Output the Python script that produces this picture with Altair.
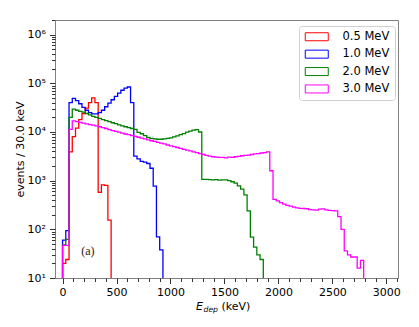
import altair as alt
import pandas as pd

BIN_WIDTH = 30
FLOOR = 1.0  # counts below the axis floor (drawn to the bottom edge, clipped)

series_labels = ["0.5 MeV", "1.0 MeV", "2.0 MeV", "3.0 MeV"]
series_colors = ["#ff0000", "#0000ff", "#008000", "#ff00ff"]

# counts per 30 keV bin, starting at 0 keV
red = [20, 24, 3900, 8000, 12000, 18000, 24000, 31000, 40000, 50000, 40000,
       575, 820, 800, 155]

blue = [60, 94, 40000, 49000, 44000, 38000, 32000, 28000, 25000, 23500, 23500,
        25000, 28000, 33000, 39000, 46000, 54000, 63000, 72000, 80000, 84000,
        40000, 3200, 2800, 2500, 2400, 2250, 1800, 770, 70, 38]

green = [48, 62, 20000, 29500, 28000, 26500, 25500, 24000, 22500, 21000, 20000,
         19000, 18000, 17200, 16300, 15500, 14800, 14000, 13300, 12800, 12300,
         11800, 11300, 9800, 9200, 8400, 7700, 7400, 7200, 7100, 7100, 7200,
         7400, 7600, 7900, 8300, 8800, 9300, 9900, 10400, 10900, 11200, 10000,
         1060, 1060, 1050, 1040, 1050, 1030, 1040, 1040, 1000, 950, 890, 785,
         670, 510, 240, 69, 43, 30, 24]

magenta = [47, 47, 11300, 17000, 16300, 15700, 15200, 14700, 14200, 13800,
           13300, 12800, 12300, 11800, 11200, 10700, 10300, 9900, 9500, 9100,
           8800, 8400, 8100, 7800, 7500, 7200, 6900, 6600, 6400, 6100, 5900,
           5700, 5400, 5200, 5000, 4800, 4600, 4400, 4250, 4100, 3900, 3750,
           3600, 3450, 3300, 3200, 3100, 3050, 3000, 3000, 2950, 3050, 3000,
           3100, 3150, 3250, 3300, 3350, 3450, 3550, 3600, 3700, 3750, 3900,
           1600, 412, 385, 355, 330, 310, 300, 285, 275, 270, 268, 265, 255,
           250, 248, 260, 262, 250, 245, 242, 240, 182, 100, 36, 30, 27, 27,
           16, 23]

x_major = list(range(0, 3001, 500))
x_minor = [v for v in range(0, 3101, 100) if v % 500 != 0]
y_ticks = [k * 10 ** n for n in range(1, 7) for k in range(1, 10) if k * 10 ** n <= 2000000]

rows = []
for label, counts in zip(series_labels, [red, blue, green, magenta]):
    pts = [(0, FLOOR)]
    pts += [(i * BIN_WIDTH, c) for i, c in enumerate(counts)]
    pts += [(len(counts) * BIN_WIDTH, FLOOR)]
    for j, (e, c) in enumerate(pts):
        rows.append({"series": label, "E": e, "N": c, "idx": j})
df = pd.DataFrame(rows)

sup = {10: "10¹", 100: "10²", 1000: "10³", 10000: "10⁴", 100000: "10⁵", 1000000: "10⁶"}
y_label_expr = " : ".join(f"datum.value === {k} ? '{v}'" for k, v in sup.items()) + " : ''"

x_scale = alt.Scale(domain=[-70, 3108], nice=False, zero=False)
y_scale = alt.Scale(type="log", domain=[10, 2000000], nice=False)

y_axis = alt.Axis(values=y_ticks, title="events / 30.0 keV", grid=False, domain=False,
                  labelExpr=y_label_expr,
                  tickSize={"condition": {"test": "indexof([10,100,1000,10000,100000,1000000], datum.value) >= 0", "value": 5.5}, "value": 3.5},
                  tickColor="#333333", labelColor="black", labelFontSize=11,
                  labelPadding=4, labelOverlap=False, labelFlush=False,
                  titleFontSize=11, titleFontWeight="normal", titleColor="black",
                  titleX=-32, titleY=129, titleAngle=270, titleBaseline="alphabetic",
                  titleAlign="center")

lines = alt.Chart(df).mark_line(interpolate="step-after", strokeWidth=1.3, clip=True).encode(
    x=alt.X("E:Q", scale=x_scale,
            axis=alt.Axis(values=x_major, title=None, grid=False, domain=False, orient="bottom",
                          tickSize=5.5, tickColor="#333333", labelColor="black", labelFontSize=11,
                          labelPadding=3, labelFlush=False, format="d")),
    y=alt.Y("N:Q", scale=y_scale, axis=y_axis),
    color=alt.Color("series:N",
                    scale=alt.Scale(domain=series_labels, range=series_colors),
                    legend=alt.Legend(title=None, orient="none", legendX=244, legendY=6,
                                      symbolType="M-1.125,-1H4.625V1H-1.125Z",
                                      symbolSize=64, symbolStrokeWidth=1,
                                      labelOffset=27,
                                      labelFontSize=11.5, labelColor="black",
                                      padding=5, rowPadding=4.4, columnPadding=0,
                                      fillColor="white", strokeColor="#d0d0d0",
                                      cornerRadius=3)),
    order="idx:Q",
)

# invisible layer carrying the minor x ticks
minor = alt.Chart(df).mark_point(opacity=0).encode(
    x=alt.X("E:Q", scale=x_scale,
            axis=alt.Axis(values=x_minor, title=None, grid=False, domain=False, orient="bottom",
                          labels=False, tickSize=3.5, tickColor="#333333")),
    y=alt.Y("N:Q", scale=y_scale, axis=y_axis),
)

# "(a)" panel annotation in data coordinates
note_x = [234]
note_y = [36]
note = alt.Chart(pd.DataFrame({"E": note_x, "N": note_y, "t": ["(a)"]})).mark_text(
    font="Liberation Serif", fontSize=12, color="#222222"
).encode(x=alt.X("E:Q", scale=x_scale, axis=None), y=alt.Y("N:Q", scale=y_scale, axis=y_axis), text="t:N")

# x-axis title with subscript
t_main = alt.Chart(pd.DataFrame({"t": ["E"]})).mark_text(
    font="DejaVu Sans", fontSize=11, fontStyle="italic", align="left", baseline="alphabetic", color="black"
).encode(x=alt.value(141), y=alt.value(289.7), text="t:N")
t_sub = alt.Chart(pd.DataFrame({"t": ["dep"]})).mark_text(
    font="DejaVu Sans", fontSize=7.7, fontStyle="italic", align="left", baseline="alphabetic", color="black"
).encode(x=alt.value(148.5), y=alt.value(292.2), text="t:N")
t_unit = alt.Chart(pd.DataFrame({"t": ["(keV)"]})).mark_text(
    font="DejaVu Sans", fontSize=11, align="left", baseline="alphabetic", color="black"
).encode(x=alt.value(166.5), y=alt.value(289.7), text="t:N")

chart = alt.layer(minor, lines, note, t_main, t_sub, t_unit).resolve_axis(x="independent").properties(
    width=343, height=258,
    autosize=alt.AutoSizeParams(type="none"),
    padding={"left": 47, "top": 12, "right": 12, "bottom": 40},
).configure(font="DejaVu Sans").configure_view(stroke="#808080", strokeWidth=1)

chart.save("out.html", embed_options={"renderer": "svg", "actions": False})
